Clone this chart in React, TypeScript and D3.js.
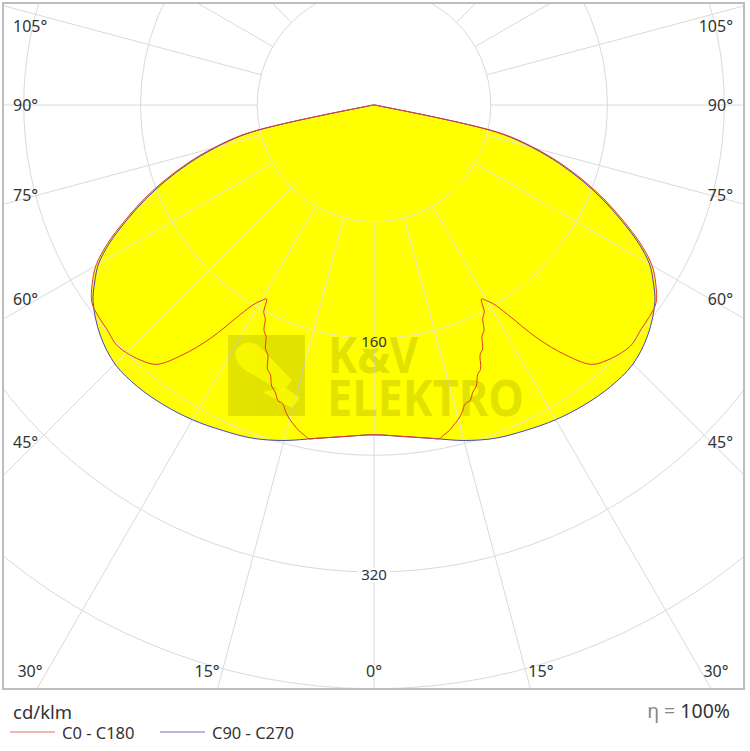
import React from 'react';
import * as d3 from 'd3';

// Polar angles (deg from nadir) and intensities (cd/klm)
const gammaBlue = [0, 5, 10, 15, 20, 25, 30, 35, 40, 45, 50, 55, 57.5, 60, 62.5, 65, 67.5, 70, 72.5, 75, 77.5, 80, 90];
const c90c270 = [226, 228, 232, 238, 243, 246, 249, 251, 252, 251, 245, 235, 227, 218, 204, 187, 170, 152, 133, 112, 86, 4, 0];

const gammaRed = [0, 5, 10, 11, 12, 13, 14, 15, 16, 17, 18, 19, 20, 21, 22, 23, 24, 25, 26, 27, 28, 29, 30, 31,
  32.5, 35, 37.5, 40, 42.5, 45, 46.5, 47.5, 50, 52.5, 55, 57.5, 60, 62.5, 65, 67.5, 70, 72.5, 75, 77.5, 80, 90];
const c0c180 = [226, 228, 232, 233, 231, 229, 226, 223, 219, 214, 213, 208, 205, 198, 195, 186, 183, 175, 172, 164, 161, 152, 155, 159,
  170, 195, 216, 232, 237, 240, 241, 241, 239, 238, 236, 229, 220, 206, 189, 172, 154, 135, 114, 88, 4, 0];

const ringValues = [80, 160, 240, 320, 400];
const ringLabels = [160, 320];
const angleLabels = [0, 15, 30, 45, 60, 75, 90, 105];
const spokeAngles = d3.range(0, 360, 15);
const seriesNames = ['C0 - C180', 'C90 - C270'];
const unitLabel = 'cd/klm';
const efficiency = '100%';

const W = 750, H = 751;
const cx = 374, cy = 105;
const FR = { x: 3, y: 3, w: 741, h: 686 };
const FONT = '"Noto Sans", "DejaVu Sans", sans-serif';
const RED = '#e23b2e';
const BLUE = '#4545c8';

export default function App() {
  const r = d3.scaleLinear().domain([0, 320]).range([0, 467]);
  const rad = Math.PI / 180;
  type P = { a: number; r: number };
  const build = (g: number[], v: number[]): P[] => {
    const right = g.map((d, i) => ({ a: Math.PI - d * rad, r: r(v[i]) })).reverse();
    const left = g.map((d, i) => ({ a: Math.PI + d * rad, r: r(v[i]) })).slice(1, -1);
    return right.concat(left);
  };
  const blue = build(gammaBlue, c90c270);
  const red = build(gammaRed, c0c180);
  const line = d3.lineRadial<P>().angle(d => d.a).radius(d => d.r).curve(d3.curveCatmullRomClosed.alpha(0.5));
  const bluePath = line(blue) || '';
  const redPath = line(red) || '';
  const bluePts: [number, number][] = blue.map(d => [d.r * Math.sin(d.a), -d.r * Math.cos(d.a)]);

  const grid = (color: string) => (
    <g>
      {ringValues.map(v => (
        <circle key={'c' + v} cx={0} cy={0} r={r(v)} fill="none" stroke={color} strokeWidth={1} />
      ))}
      {spokeAngles.map(a => {
        const s = Math.sin(a * rad), c = Math.cos(a * rad);
        return <line key={'s' + a} x1={r(80) * s} y1={r(80) * c} x2={1200 * s} y2={1200 * c} stroke={color} strokeWidth={1} />;
      })}
    </g>
  );

  const angleTexts: { x: number; y: number; anchor: string; t: string }[] = [];
  angleLabels.forEach(g => {
    const sides = g === 0 ? [1] : [-1, 1];
    sides.forEach(s => {
      if (g <= 30) {
        let x = cx + s * 623 * Math.tan(g * rad);
        x = Math.max(30, Math.min(716, x));
        angleTexts.push({ x, y: 671, anchor: 'middle', t: g + '°' });
      } else {
        let y = cy + 337 / Math.tan(g * rad);
        y = Math.max(26, y);
        angleTexts.push({ x: s < 0 ? 13 : 733, y, anchor: s < 0 ? 'start' : 'end', t: g + '°' });
      }
    });
  });

  return (
    <svg width={W} height={H} style={{ position: 'absolute', left: 0, top: 0, background: '#fff' }} fontFamily={FONT}>
      <defs>
        <clipPath id="frameClip">
          <rect x={FR.x} y={FR.y} width={FR.w} height={FR.h} />
        </clipPath>
        <clipPath id="shapeClip">
          <path d={bluePath} transform={`translate(${cx},${cy})`} />
          <path d={redPath} transform={`translate(${cx},${cy})`} />
        </clipPath>
      </defs>
      <rect x={0} y={0} width={W} height={H} fill="#fff" />
      <g clipPath="url(#frameClip)">
        <g transform={`translate(${cx},${cy})`}>
          <path d={bluePath} fill="#ffff00" stroke="none" />
          <path d={redPath} fill="#ffff00" stroke="none" />
          {grid('#dadada')}
        </g>
        <g clipPath="url(#shapeClip)">
          <g transform={`translate(${cx},${cy})`}>{grid('#f3f396')}</g>
        </g>
        {/* watermark */}
        <g opacity={0.11}>
          <rect x={228} y={335} width={77} height={81} fill="#000" />
          <text x={328} y={373} fontSize={50} fontWeight="bold" textLength={90} lengthAdjust="spacingAndGlyphs" fontFamily={FONT}>K&amp;V</text>
          <text x={327} y={416} fontSize={50} fontWeight="bold" textLength={197} lengthAdjust="spacingAndGlyphs" fontFamily={FONT}>ELEKTRO</text>
        </g>
        <g>
          <path d="M236,350 Q245,338 258,345 L292,380 L283,392 L248,372 Q232,362 236,350 Z" fill="#ffff00" opacity={0.7} />
          <path d="M262,392 L292,408 L300,398 L286,388 Z" fill="#ffff00" opacity={0.7} />
        </g>
        <g transform={`translate(${cx},${cy})`}>
          <path d={bluePath} fill="none" stroke={BLUE} strokeWidth={1} />
          <path d={redPath} fill="none" stroke={RED} strokeWidth={1} />
        </g>
        {ringLabels.map(v => {
          const y = cy + r(v) + 3;
          const inside = d3.polygonContains(bluePts, [0, r(v) + 3]);
          return (
            <g key={'rl' + v}>
              <rect x={cx - 16} y={y - 7} width={32} height={14} fill={inside ? '#ffff00' : '#fff'} />
              <text x={cx} y={y} dy="0.35em" textAnchor="middle" fontSize={15} fill="#333">{v}</text>
            </g>
          );
        })}
        {angleTexts.map((d, i) => (
          <text key={'al' + i} x={d.x} y={d.y} dy="0.35em" textAnchor={d.anchor as any} fontSize={16} fill="#333">{d.t}</text>
        ))}
      </g>
      <rect x={FR.x} y={FR.y} width={FR.w} height={FR.h} fill="none" stroke="#bdbdbd" strokeWidth={2} />
      <text x={13} y={719} fontSize={18.5} fill="#333">{unitLabel}</text>
      <line x1={10} x2={55} y1={732} y2={732} stroke="#e06a6a" strokeWidth={1} />
      <text x={62} y={739} fontSize={16.5} fill="#333">{seriesNames[0]}</text>
      <line x1={160} x2={205} y1={732} y2={732} stroke="#6a6ad8" strokeWidth={1} />
      <text x={212} y={739} fontSize={16.5} fill="#333">{seriesNames[1]}</text>
      <text x={730} y={718} fontSize={19.5} textAnchor="end" fill="#333">
        <tspan fill="#888">η = </tspan>{efficiency}
      </text>
    </svg>
  );
}
